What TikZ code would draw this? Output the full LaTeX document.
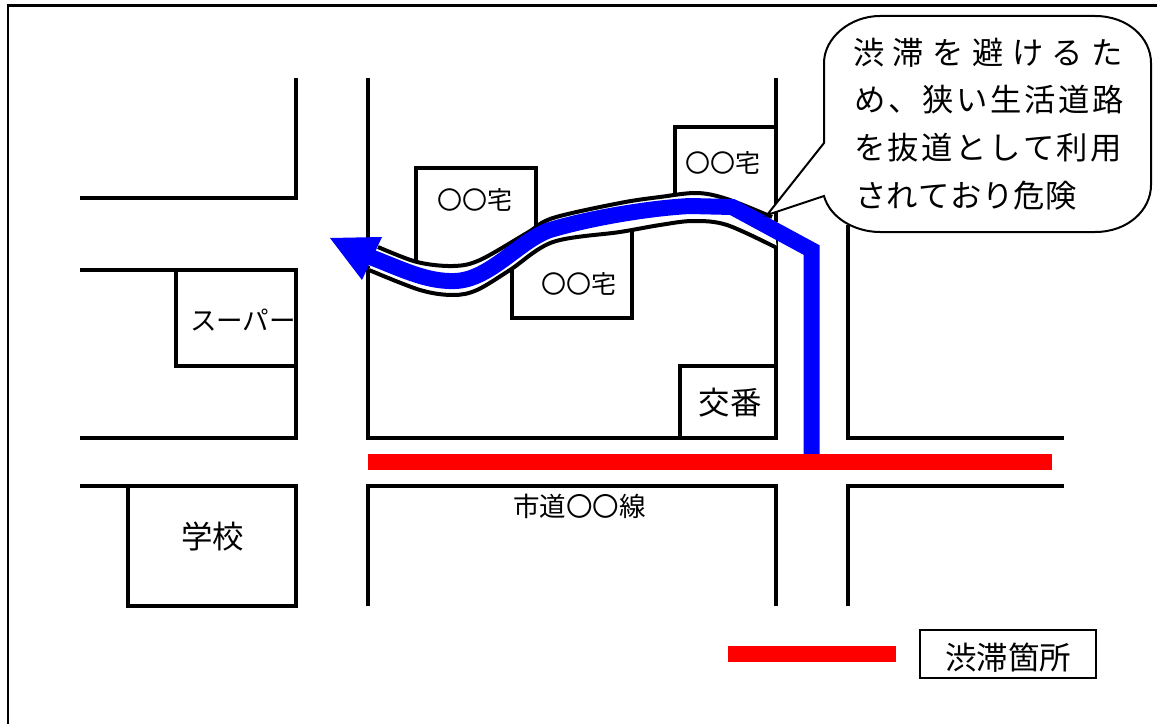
\documentclass[tikz,border=0pt]{standalone}
\usepackage{fontspec}
\setmainfont{Noto Sans CJK JP}
\newcommand{\ptfont}[1]{\fontsize{#1pt}{#1pt}\selectfont}
\newcommand{\spreadline}[2]{\makebox[\dimexpr 0.75pt*#1\relax][s]{#2}}
\tikzset{
  road/.style={line width=3pt, line join=miter, line cap=butt},
  curb/.style={line width=3pt},
  band/.style={line width=12pt, color=jam},
  lab/.style={inner sep=0pt, outer sep=0pt, anchor=center},
  calltext/.style={inner sep=0pt, outer sep=0pt, anchor=center, font=\ptfont{23.5}},
}
\definecolor{jam}{RGB}{255,0,0}
\definecolor{route}{RGB}{0,0,255}
\begin{document}
\begin{tikzpicture}[x=0.75pt,y=-0.75pt]
\useasboundingbox (0,0) rectangle (1157,724);
% frame
\draw[line width=1.6pt] (8,724) -- (8,5.5) -- (1157,5.5);
% houses behind the lane
\draw[road] (416,262) -- (416,168) -- (536,168) -- (536,232);
\draw[road] (512,262) -- (512,318) -- (632,318) -- (632,228);
\draw[road] (675,200) -- (675,127) -- (776,127);
% roads
\draw[road] (80,198) -- (296,198) -- (296,78);
\draw[road] (80,270) -- (296,270) -- (296,438) -- (80,438);
\draw[road] (176,270) -- (176,366) -- (296,366);
\draw[road] (80,486) -- (296,486) -- (296,606) -- (128,606) -- (128,486);
\draw[road] (368,78) -- (368,260);
\draw[road] (368,266) -- (368,438) -- (776,438) -- (776,240);
\draw[road] (776,78) -- (776,222);
\draw[road] (680,438) -- (680,366) -- (776,366);
\draw[road] (368,606) -- (368,486) -- (776,486) -- (776,606);
\draw[road] (848,606) -- (848,486) -- (1064,486);
\draw[road] (848,225) -- (848,438) -- (1064,438);
% lane: cleared band
\fill[white] plot[smooth,tension=0.55] coordinates {(378,247) (417,262) (453,266) (480,260) (527,233) (553,218) (620,203) (660,197) (697,193) (727,199) (772,217)}
  -- plot[smooth,tension=0.55] coordinates {(777,248) (727,225) (693,221) (660,225) (620,232) (553,242) (510,270) (477,290) (453,295) (420,290) (369,270)} -- cycle;
\draw[curb] plot[smooth,tension=0.55] coordinates {(378,247) (417,262) (453,266) (480,260) (527,233) (553,218) (620,203) (660,197) (697,193) (727,199) (772,217)};
\draw[curb] plot[smooth,tension=0.55] coordinates {(369,270) (420,290) (453,295) (477,290) (510,270) (553,242) (620,232) (660,225) (693,221) (727,225) (777,248)};
% route
\draw[route, line width=12pt, line join=miter] (811.5,455) -- (811.5,250) -- (732,207) -- (690,206)
  .. controls (650,208) and (590,218) .. (550,230)
  .. controls (520,240) and (490,280) .. (455,281)
  .. controls (425,282) and (400,268) .. (365,255);
\fill[route] (330,238) -- (382,237) -- (362,280) -- cycle;
% congestion
\draw[band] (368,461.5) -- (1052,461.5);
\draw[band] (728,654) -- (896,654);
% callout
\draw[line width=1.5pt, fill=white] (824,143) -- (767,215) -- (824,196)
  .. controls (830,218) and (855,232) .. (880,232) -- (1095,232)
  .. controls (1128,232) and (1151,210) .. (1151,185) -- (1151,63)
  .. controls (1151,38) and (1128,16) .. (1095,16) -- (880,16)
  .. controls (850,16) and (824,38) .. (824,63) -- cycle;
\node[calltext] (c1) at (988,53) {\spreadline{270}{渋\hfil 滞\hfil を\hfil 避\hfil け\hfil る\hfil た}};
\node[calltext] (c2) at (989,100) {\spreadline{270}{め\hfil 、\hfil 狭\hfil い\hfil 生\hfil 活\hfil 道\hfil 路}};
\node[calltext] (c3) at (988,148) {\spreadline{268}{を\hfil 抜\hfil 道\hfil と\hfil し\hfil て\hfil 利\hfil 用}};
\node[calltext] (c4) at (966,196) {\spreadline{222}{さ\hfil れ\hfil て\hfil お\hfil り\hfil 危\hfil 険}};
% labels
\node[lab, font=\ptfont{18.75}] (h1) at (475,200) {〇〇宅};
\node[lab, font=\ptfont{18.75}] (h2) at (579,284) {〇〇宅};
\node[lab, font=\ptfont{18.75}] (h3) at (723,163) {〇〇宅};
\node[lab, font=\ptfont{19.9}] (sup) at (243,320) {スーパー};
\node[lab, font=\ptfont{23.6}] (kb) at (730,403) {交番};
\node[lab, font=\ptfont{19.9}] (rd) at (579.5,506) {市道〇〇線};
\node[lab, font=\ptfont{23.6}] (sch) at (212.5,537) {学校};
\node[draw, line width=1.1pt, minimum width=132pt, minimum height=36pt, inner sep=0pt] (leg) at (1008,654) {};
\node[lab, font=\ptfont{23.6}] (legt) at (1008,658) {渋滞箇所};
\end{tikzpicture}
\end{document}
